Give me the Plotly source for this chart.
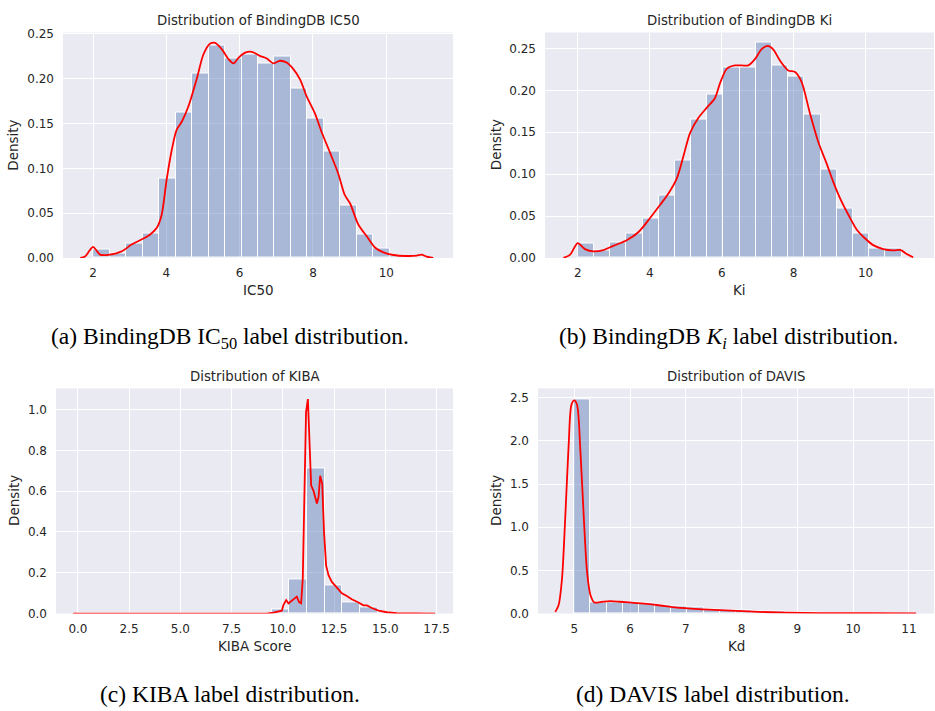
import numpy as np
import plotly.graph_objects as go

# ---------------- data ----------------
# (a) BindingDB IC50 : 20 bins between 2.0 and 11.0
IC50_RANGE = [2.0, 11.0]
IC50_HIST = [0.0095, 0.005, 0.0157, 0.0278, 0.0885, 0.1626, 0.2058, 0.2365, 0.223, 0.2266,
             0.2164, 0.2244, 0.189, 0.156, 0.119, 0.0585, 0.0263, 0.0102, 0.003, 0.0015]
IC50_KDE_X = [1.65, 1.78, 1.9, 2.0, 2.1, 2.19, 2.46, 2.78, 3.05, 3.28, 3.55, 3.74, 3.87, 4.01, 4.15,
              4.28, 4.42, 4.6, 4.83, 5.01, 5.19, 5.33, 5.51, 5.69, 5.83, 5.96, 6.15, 6.33, 6.55,
              6.74, 6.92, 7.1, 7.28, 7.46, 7.65, 7.83, 8.05, 8.24, 8.46, 8.69, 8.87, 9.01, 9.24,
              9.46, 9.69, 9.92, 10.19, 10.55, 10.83, 10.96, 11.1, 11.28]
IC50_KDE_Y = [0.0, 0.0015, 0.008, 0.0124, 0.008, 0.0037, 0.0037, 0.0073, 0.015, 0.0197, 0.026,
              0.0336, 0.048, 0.088, 0.121, 0.143, 0.152, 0.169, 0.2, 0.227, 0.239, 0.240, 0.233,
              0.222, 0.217, 0.223, 0.229, 0.23, 0.2255, 0.2226, 0.217, 0.22, 0.218, 0.211, 0.199,
              0.18, 0.1615, 0.14, 0.118, 0.094, 0.070, 0.061, 0.037, 0.0245, 0.0117, 0.0062,
              0.0033, 0.0022, 0.0026, 0.0037, 0.0015, 0.0]

# (b) BindingDB Ki : 20 bins between 2.0 and 11.0
KI_RANGE = [2.0, 11.0]
KI_HIST = [0.0176, 0.0094, 0.0188, 0.029, 0.047, 0.0747, 0.1158, 0.165, 0.1948, 0.2277,
           0.2273, 0.2567, 0.2297, 0.2164, 0.1706, 0.1052, 0.0595, 0.0286, 0.0117, 0.011]
KI_KDE_X = [1.6, 1.79, 1.9, 2.0, 2.2, 2.44, 2.71, 2.99, 3.36, 3.69, 4.01, 4.29, 4.52, 4.75, 4.94,
            5.12, 5.35, 5.58, 5.81, 5.95, 6.14, 6.37, 6.56, 6.74, 6.93, 7.11, 7.28, 7.43, 7.62,
            7.85, 8.04, 8.22, 8.45, 8.69, 8.92, 9.1, 9.29, 9.52, 9.75, 9.98, 10.21, 10.49,
            10.77, 10.98, 11.14, 11.32]
KI_KDE_Y = [0.0, 0.004, 0.012, 0.0176, 0.0106, 0.0078, 0.0094, 0.0145, 0.0211, 0.031, 0.0477,
            0.0634, 0.077, 0.0947, 0.122, 0.149, 0.167, 0.179, 0.1905, 0.208, 0.2257, 0.2297,
            0.2297, 0.2297, 0.2375, 0.2492, 0.253, 0.249, 0.2355, 0.2238, 0.2218, 0.21, 0.173,
            0.1377, 0.1123, 0.0908, 0.0712, 0.0516, 0.034, 0.0235, 0.0153, 0.0106, 0.009,
            0.0094, 0.0047, 0.0008]

# (c) KIBA : 20 bins between 0.0 and 17.2
KIBA_RANGE = [0.0, 17.2]
KIBA_HIST = [0, 0, 0, 0, 0, 0, 0, 0, 0, 0, 0.0005, 0.0224, 0.168, 0.712, 0.139, 0.056, 0.0288,
             0.004, 0.0008, 0.0003]
KIBA_KDE_X = [-0.23, 2.0, 5.0, 8.0, 9.21, 9.54, 9.78, 9.95, 10.03, 10.16, 10.27, 10.43, 10.55,
              10.68, 10.79, 10.89, 10.97, 11.05, 11.13, 11.22, 11.28, 11.38, 11.49, 11.66,
              11.74, 11.82, 11.92, 12.01, 12.11, 12.23, 12.39, 12.63, 12.88, 13.12, 13.36,
              13.69, 13.93, 14.1, 14.34, 14.67, 15.07, 15.56, 16.54, 17.43]
KIBA_KDE_Y = [0.0, 0.0, 0.0, 0.0, 0.0, 0.005, 0.011, 0.014, 0.043, 0.066, 0.05, 0.062, 0.069,
              0.083, 0.056, 0.05, 0.171, 0.555, 0.987, 1.051, 0.875, 0.627, 0.603, 0.539, 0.571,
              0.675, 0.635, 0.395, 0.235, 0.187, 0.155, 0.128, 0.099, 0.086, 0.07, 0.054, 0.04,
              0.04, 0.027, 0.014, 0.0064, 0.0016, 0.0, 0.0]

# (d) DAVIS : 20 bins between 5.0 and 10.8
DAVIS_RANGE = [5.0, 10.8]
DAVIS_HIST = [2.485, 0.128, 0.13, 0.125, 0.115, 0.1, 0.08, 0.066, 0.052, 0.04, 0.034, 0.027,
              0.02, 0.013, 0.009, 0.006, 0.004, 0.003, 0.002, 0.002]
DAVIS_KDE_X = [4.66, 4.72, 4.78, 4.84, 4.9, 4.95, 5.0, 5.05, 5.11, 5.17, 5.23, 5.29, 5.36, 5.47,
               5.64, 5.82, 6.12, 6.48, 6.84, 7.31, 7.91, 8.51, 9.1, 9.7, 10.3, 11.13]
DAVIS_KDE_Y = [0.019, 0.1, 0.4, 1.13, 1.96, 2.42, 2.47, 2.42, 1.885, 1.127, 0.48, 0.216, 0.129,
               0.133, 0.144, 0.137, 0.121, 0.099, 0.068, 0.049, 0.03, 0.015, 0.0076, 0.004,
               0.004, 0.003]

TITLES = ["Distribution of BindingDB IC50", "Distribution of BindingDB Ki",
          "Distribution of KIBA", "Distribution of DAVIS"]
XLABELS = ["IC50", "Ki", "KIBA Score", "Kd"]
YLABEL = "Density"
CAPTIONS = ["(a) BindingDB IC<sub>50</sub> label distribution.",
            "(b) BindingDB <i>K</i><sub><i>i</i></sub> label distribution.",
            "(c) KIBA label distribution.",
            "(d) DAVIS label distribution."]

# ---------------- layout ----------------
W, H = 935, 711
BG = "#EAEAF2"
TXT = "#262626"
BAR = "rgba(76,114,176,0.42)"

# plot areas in pixels: (left, right, top, bottom)
boxes = [(63, 453, 28, 257.3), (545, 934, 28, 257.3), (56, 453, 390, 619), (538, 934, 390, 619)]
xranges = [[1.18, 11.82], [1.09, 11.9], [-1.07, 18.3], [4.35, 11.45]]
yranges = [[0, 0.2515], [0, 0.2690], [0, 1.1035], [0, 2.609]]
xticks = [[2, 4, 6, 8, 10], [2, 4, 6, 8, 10], [0, 2.5, 5, 7.5, 10, 12.5, 15, 17.5],
          [5, 6, 7, 8, 9, 10, 11]]
xfmt = ["d", "d", ".1f", "d"]
yticks = [[0, 0.05, 0.1, 0.15, 0.2, 0.25], [0, 0.05, 0.1, 0.15, 0.2, 0.25],
          [0, 0.2, 0.4, 0.6, 0.8, 1.0], [0, 0.5, 1.0, 1.5, 2.0, 2.5]]
yfmt = [".2f", ".2f", ".1f", ".1f"]
ylabel_x = [13.5, 496, 14, 496]
xlabel_y = [290, 290, 652, 652]
title_y = [16, 16, 378, 378]
caption_pos = [(230, 339), (728, 339), (230, 701), (713, 701)]

hists = [(IC50_RANGE, IC50_HIST), (KI_RANGE, KI_HIST), (KIBA_RANGE, KIBA_HIST), (DAVIS_RANGE, DAVIS_HIST)]
kdes = [(IC50_KDE_X, IC50_KDE_Y), (KI_KDE_X, KI_KDE_Y), (KIBA_KDE_X, KIBA_KDE_Y), (DAVIS_KDE_X, DAVIS_KDE_Y)]
kde_shape = ["spline", "spline", "linear", "spline"]

fig = go.Figure()
annotations = []
for i in range(4):
    ax = "" if i == 0 else str(i + 1)
    l, r, t, b = boxes[i]
    (lo, hi), heights = hists[i]
    n = len(heights)
    w = (hi - lo) / n
    centers = lo + w * (np.arange(n) + 0.5)
    fig.add_trace(go.Bar(x=centers, y=heights, width=w, marker=dict(color=BAR, line=dict(color="white", width=1)),
                         xaxis="x" + ax, yaxis="y" + ax, showlegend=False, hoverinfo="skip"))
    kx, ky = kdes[i]
    fig.add_trace(go.Scatter(x=kx, y=ky, mode="lines",
                             line=dict(color="red", width=1.8, shape=kde_shape[i], smoothing=0.8),
                             xaxis="x" + ax, yaxis="y" + ax, showlegend=False, hoverinfo="skip"))
    fig.layout["xaxis" + ax] = dict(domain=[l / W, r / W], range=xranges[i], anchor="y" + ax,
                                    tickvals=xticks[i], tickformat=xfmt[i], showgrid=True,
                                    gridcolor="white", gridwidth=1.2, zeroline=False, showline=False,
                                    ticks="", ticklabelstandoff=6,
                                    tickfont=dict(family="DejaVu Sans", size=12, color=TXT))
    fig.layout["yaxis" + ax] = dict(domain=[1 - b / H, 1 - t / H], range=yranges[i], anchor="x" + ax,
                                    tickvals=yticks[i], tickformat=yfmt[i], showgrid=True,
                                    gridcolor="white", gridwidth=1.2, zeroline=False, showline=False,
                                    ticks="", ticklabelstandoff=8,
                                    tickfont=dict(family="DejaVu Sans", size=12, color=TXT))
    cx = (l + r) / 2
    annotations.append(dict(text=TITLES[i], x=cx / W, y=1 - title_y[i] / H, xref="paper", yref="paper",
                            xanchor="center", yanchor="middle", showarrow=False,
                            font=dict(family="DejaVu Sans", size=13.3, color=TXT)))
    annotations.append(dict(text=XLABELS[i], x=cx / W, y=1 - xlabel_y[i] / H, xref="paper", yref="paper",
                            xanchor="center", yanchor="middle", showarrow=False,
                            font=dict(family="DejaVu Sans", size=13.5, color=TXT)))
    annotations.append(dict(text=YLABEL, x=ylabel_x[i] / W, y=1 - (t + b) / 2 / H, xref="paper", yref="paper",
                            xanchor="center", yanchor="middle", showarrow=False, textangle=-90,
                            font=dict(family="DejaVu Sans", size=13.5, color=TXT)))
    cxp, cyp = caption_pos[i]
    annotations.append(dict(text=CAPTIONS[i], x=cxp / W, y=1 - cyp / H, xref="paper", yref="paper",
                            xanchor="center", yanchor="middle", showarrow=False,
                            font=dict(family="Liberation Serif", size=23.5, color="black")))

fig.update_layout(width=W, height=H, margin=dict(l=0, r=0, t=0, b=0), paper_bgcolor="white",
                  plot_bgcolor=BG, bargap=0, barmode="overlay", annotations=annotations)
fig.write_html("out.html", config={"displayModeBar": False},
               post_script="document.body.style.margin='0';document.body.style.overflow='hidden';")
